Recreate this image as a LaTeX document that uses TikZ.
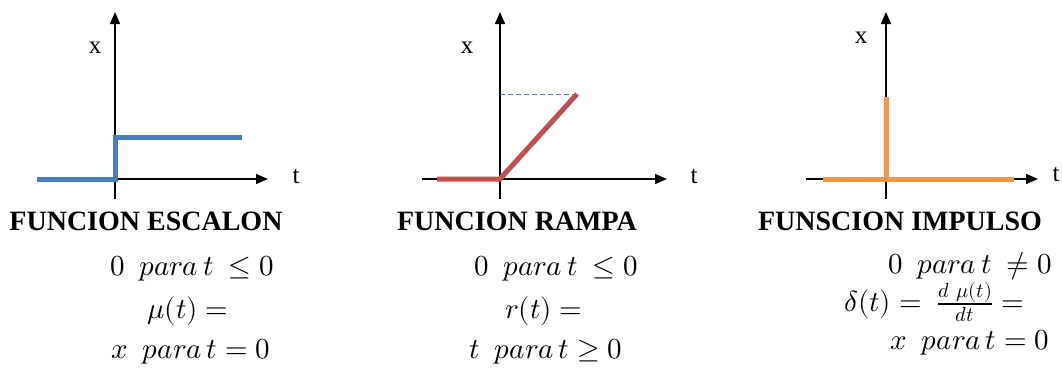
\documentclass[tikz,border=0pt]{standalone}
\usepackage{fontspec}
\usepackage{unicode-math}
\setmainfont{Liberation Serif}
\setmathfont{Latin Modern Math}
\usetikzlibrary{arrows.meta}
\definecolor{stepblue}{HTML}{4A7EBB}
\definecolor{rampred}{HTML}{C0504D}
\definecolor{pulseorange}{HTML}{F79646}

\begin{document}
\begin{tikzpicture}[x=1pt, y=-1pt, >={Triangle[length=12pt,width=10pt]},
    axis/.style={->, line width=1.4pt},
    signal/.style={line width=5pt, line join=miter},
    lbl/.style={font=\fontsize{25}{25}\selectfont},
    title/.style={font=\fontsize{28}{28}\selectfont\bfseries},
    eq/.style={font=\fontsize{29}{29}\selectfont}]
  \useasboundingbox (0,0) rectangle (1062,367);

  % escalon
  \coordinate (o1) at (115,179);
  \draw[axis] (115,199) -- (115,12);
  \draw[axis] (o1) -- (268,179);
  \draw[signal, stepblue] (37,179) -- (o1) -- (115,137) -- (242,137);
  \node[lbl] (x1) at (95,48) {x};
  \node[lbl] (t1) at (296,177) {t};
  \node[title] (f1) at (146,221) {FUNCION ESCALON};
  \node[eq] (e1a) at (192,269) {$0\ \ para\,t\ \le 0$};
  \node[eq] (e1b) at (188,311) {$\mu(t) =$};
  \node[eq] (e1c) at (191,352) {$x\ \ para\,t = 0$};

  % rampa
  \coordinate (o2) at (500,179);
  \draw[axis] (500,199) -- (500,12);
  \draw[axis] (422,179) -- (667,179);
  \draw[stepblue, dash pattern=on 5pt off 3pt, line width=0.9pt] (500,94) -- (577,94);
  \draw[signal, rampred] (437,179) -- (o2) -- (577,94);
  \node[lbl] (x2) at (467,48) {x};
  \node[lbl] (t2) at (694,177) {t};
  \node[title] (f2) at (517,221) {FUNCION RAMPA};
  \node[eq] (e2a) at (556,269) {$0\ \ para\,t\ \le 0$};
  \node[eq] (e2b) at (544,311) {$r(t) =$};
  \node[eq] (e2c) at (546,352) {$t\ \ para\,t \ge 0$};

  % impulso
  \coordinate (o3) at (886,179);
  \draw[axis] (886,199) -- (886,12);
  \draw[axis] (806,179) -- (1038,179);
  \draw[signal, pulseorange] (823,179) -- (1014,179);
  \draw[signal, pulseorange] (o3) -- (886,97);
  \node[lbl] (x3) at (861,38) {x};
  \node[lbl] (t3) at (1056,175) {t};
  \node[title] (f3) at (900,221) {FUNSCION IMPULSO};
  \node[eq] (e3a) at (970,266) {$0\ \ para\,t\ \ne 0$};
  \node[eq] (e3b) at (934,302) {$\delta(t) =\ \tfrac{d\ \mu(t)}{dt} =$};
  \node[eq] (e3c) at (970,343) {$x\ \ para\,t = 0$};
\end{tikzpicture}
\end{document}
